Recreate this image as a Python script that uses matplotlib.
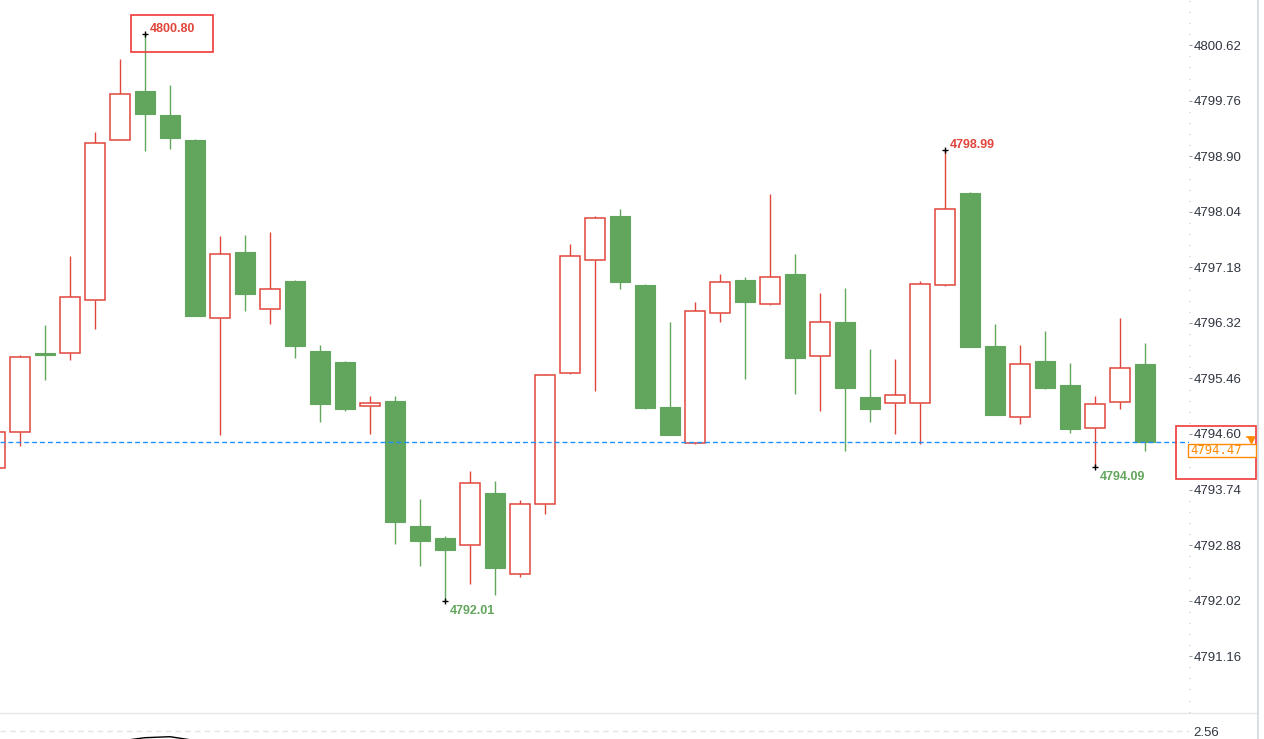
import matplotlib
matplotlib.use("Agg")
import matplotlib.pyplot as plt
from matplotlib.patches import Rectangle
from matplotlib.lines import Line2D
from matplotlib.ticker import AutoMinorLocator

plt.rcParams['font.family'] = ['Liberation Sans', 'DejaVu Sans']
plt.rcParams['lines.scale_dashes'] = False

# ---------------- data ----------------
opens = [4794.07, 4794.63, 4795.85, 4795.86, 4796.68, 4799.16, 4799.91, 4799.54,
         4799.15, 4796.39, 4797.42, 4796.53, 4796.97, 4795.88, 4795.71, 4795.04,
         4795.11, 4793.18, 4792.99, 4792.88, 4793.69, 4792.43, 4793.52, 4795.54,
         4797.30, 4797.97, 4796.91, 4795.02, 4794.46, 4796.47, 4796.98, 4796.61,
         4797.08, 4795.80, 4796.33, 4795.17, 4795.08, 4795.08, 4796.90, 4798.33,
         4795.96, 4794.87, 4795.73, 4795.36, 4794.70, 4795.09, 4795.68]
highs = [4794.65, 4795.82, 4796.29, 4797.35, 4799.27, 4800.40, 4800.80, 4800.00,
         4799.17, 4797.66, 4797.68, 4797.73, 4796.99, 4795.98, 4795.73, 4795.19,
         4795.19, 4793.59, 4793.02, 4794.03, 4793.87, 4793.58, 4795.53, 4797.54,
         4797.97, 4798.08, 4796.93, 4796.33, 4796.64, 4797.08, 4797.03, 4798.31,
         4797.39, 4796.78, 4796.86, 4795.92, 4795.76, 4796.97, 4798.99, 4798.35,
         4796.30, 4795.98, 4796.19, 4795.70, 4795.19, 4796.39, 4796.01]
lows = [4794.05, 4794.42, 4795.44, 4795.75, 4796.23, 4799.15, 4798.98, 4799.02,
        4796.42, 4794.59, 4796.51, 4796.31, 4795.78, 4794.79, 4794.95, 4794.60,
        4792.90, 4792.56, 4792.01, 4792.27, 4792.11, 4792.38, 4793.36, 4795.53,
        4795.27, 4796.85, 4794.98, 4794.58, 4794.45, 4796.34, 4795.45, 4796.60,
        4795.22, 4794.96, 4794.34, 4794.79, 4794.60, 4794.45, 4796.89, 4795.94,
        4794.89, 4794.76, 4795.30, 4794.62, 4794.09, 4794.99, 4794.34]
closes = [4794.63, 4795.79, 4795.83, 4796.72, 4799.11, 4799.87, 4799.56, 4799.19,
          4796.43, 4797.38, 4796.76, 4796.85, 4795.97, 4795.07, 4794.98, 4795.08,
          4793.23, 4792.95, 4792.81, 4793.84, 4792.53, 4793.51, 4795.51, 4797.35,
          4797.95, 4796.96, 4795.00, 4794.59, 4796.51, 4796.96, 4796.65, 4797.03,
          4795.77, 4796.34, 4795.32, 4794.99, 4795.20, 4796.92, 4798.08, 4795.95,
          4794.90, 4795.69, 4795.32, 4794.67, 4795.06, 4795.62, 4794.47]

ytick_values = [4791.16, 4792.02, 4792.88, 4793.74, 4794.60, 4795.46,
                4796.32, 4797.18, 4798.04, 4798.90, 4799.76, 4800.62]
last_price = 4794.47
high_marks = [(6, 4800.80), (38, 4798.99)]
low_marks = [(18, 4792.01), (44, 4794.09)]

ind_idx = [4, 5, 6, 7, 8, 9]
ind_vals = [2.40, 2.46, 2.493, 2.503, 2.465, 2.40]
ind_tick = [2.56]

# ---------------- style ----------------
RED = '#e0453b'
GREEN = '#62a65d'
W, H = 1264, 739
AX_RIGHT = 1189
SEP_Y = 713


def fx(px):
    return px / W


def fy(py):
    return 1 - py / H


fig = plt.figure(figsize=(W / 100, H / 100), dpi=100)
fig.patch.set_facecolor('white')

ax = fig.add_axes([0, fy(SEP_Y), AX_RIGHT / W, SEP_Y / H])
ax.set_xlim(0.2, 47.76)
ax.set_ylim(4790.28, 4801.32)
for s in ax.spines.values():
    s.set_visible(False)
ax.set_xticks([])

bw = 0.82
for i, (o, h, l, c) in enumerate(zip(opens, highs, lows, closes)):
    if c >= o:
        ax.vlines(i, c, h, color=RED, lw=1.0, zorder=2)
        ax.vlines(i, l, o, color=RED, lw=1.0, zorder=2)
        ax.add_patch(Rectangle((i - bw / 2, o), bw, c - o, facecolor='white',
                               edgecolor=RED, lw=1.1, zorder=3))
    else:
        ax.vlines(i, l, h, color=GREEN, lw=1.0, zorder=2)
        ax.add_patch(Rectangle((i - bw / 2, c), bw, o - c, facecolor=GREEN,
                               edgecolor=GREEN, lw=0.8, zorder=3))

# current price line
ax.axhline(last_price, color='#1e8fff', lw=1.0, dashes=(3.5, 2.2), zorder=4)

# high / low annotations
for i, v in high_marks:
    ax.plot(i, v, marker='+', color='black', ms=5, mew=1.0, zorder=5)
    ax.annotate(f"{v:.2f}", xy=(i, v), xytext=(5, 5), textcoords='offset pixels',
                ha='left', va='center', color=RED, fontsize=9, fontweight='bold')
for i, v in low_marks:
    ax.plot(i, v, marker='+', color='black', ms=5, mew=1.0, zorder=5)
    ax.annotate(f"{v:.2f}", xy=(i, v), xytext=(5, -10), textcoords='offset pixels',
                ha='left', va='center', color=GREEN, fontsize=9, fontweight='bold')

# y axis on the right
ax.yaxis.tick_right()
ax.set_yticks(ytick_values)
ax.set_yticklabels([f"{t:.2f}" for t in ytick_values])
ax.yaxis.set_minor_locator(AutoMinorLocator(5))
ax.tick_params(axis='y', which='major', direction='out', length=2.2, width=0.8,
               color='#999999', labelsize=9.5, labelcolor='#2f3540', pad=1)
ax.tick_params(axis='y', which='minor', direction='out', length=0.8, width=0.8,
               color='#c4c4c4')

# bottom indicator panel
ax2 = fig.add_axes([0, 0, AX_RIGHT / W, (H - SEP_Y) / H])
ax2.set_xlim(0.2, 47.76)
ax2.set_ylim(2.48, 2.74)
for s in ax2.spines.values():
    s.set_visible(False)
ax2.set_xticks([])
ax2.plot(ind_idx, ind_vals, color='black', lw=1.0)
ax2.axhline(ind_tick[0], color='#e4e4e4', lw=1.0, dashes=(4, 3))
ax2.yaxis.tick_right()
ax2.set_yticks(ind_tick)
ax2.set_yticklabels([f"{t:.2f}" for t in ind_tick])
ax2.tick_params(axis='y', length=0, labelsize=9.5, labelcolor='#2f3540', pad=3)

# separators and frames (figure pixel coordinates)
fig.add_artist(Line2D([0, fx(1258)], [fy(SEP_Y), fy(SEP_Y)], color='#e6e6e6', lw=1.0))
fig.add_artist(Line2D([fx(1258), fx(1258)], [0, 1], color='#d3d9e0', lw=1.2))

# red frame around top annotation
fig.add_artist(Rectangle((fx(131), fy(52)), fx(213) - fx(131), fy(15) - fy(52),
                         transform=fig.transFigure, fill=False, edgecolor='#f03a3a', lw=1.2))
# red frame on price axis
fig.add_artist(Rectangle((fx(1176), fy(479)), fx(1256) - fx(1176), fy(426) - fy(479),
                         transform=fig.transFigure, fill=False, edgecolor='#f03a3a', lw=1.2))
# orange current price label
fig.add_artist(Rectangle((fx(1188), fy(457)), fx(1256) - fx(1188), fy(444) - fy(457),
                         transform=fig.transFigure, fill=True, facecolor='white',
                         edgecolor='#ff8a00', lw=1.0))
fig.text(fx(1190), fy(451), f"{last_price:.2f}", ha='left', va='center',
         color='#ff8a00', fontsize=8.8, family='DejaVu Sans Mono')
fig.add_artist(Line2D([fx(1247), fx(1254)], [fy(436.5), fy(436.5)], color='#ff8a00', lw=1.2))
fig.add_artist(Line2D([fx(1250.5)], [fy(440)], marker='v', color='#ff8a00', ms=5, lw=0))

fig.savefig('out.png', dpi=100)
